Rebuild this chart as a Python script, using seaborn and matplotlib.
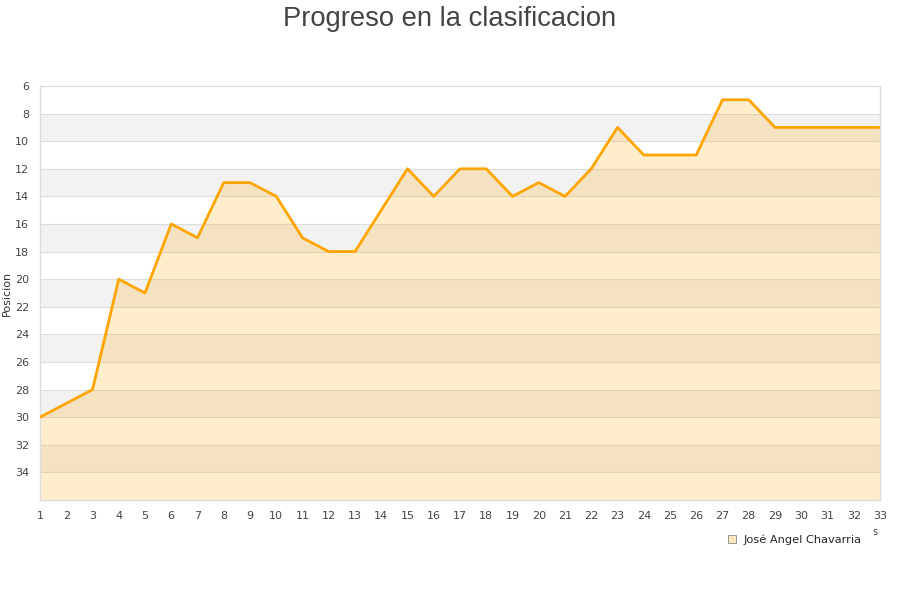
import numpy as np
import pandas as pd
import matplotlib
matplotlib.use('Agg')
import matplotlib.pyplot as plt
import seaborn as sns
from matplotlib.lines import Line2D

# datos
jornadas = list(range(1, 34))
posicion = [30, 29, 28, 20, 21, 16, 17, 13, 13, 14, 17, 18, 18, 15, 12, 14, 12, 12,
            14, 13, 14, 12, 9, 11, 11, 11, 7, 7, 9, 9, 9, 9, 9]
jugador = 'José Angel Chavarria'
yticks = list(range(6, 36, 2))

df = pd.DataFrame({'Jornada': jornadas, 'Posicion': posicion})

sns.set_style('white')
plt.rcParams['font.family'] = ['DejaVu Sans']

fig = plt.figure(figsize=(9, 6), dpi=100)
ax = fig.add_axes([40/900, 100/600, 840/900, 414/600])

# bandas alternas
for y0 in range(8, 36, 4):
    ax.axhspan(y0, y0 + 2, color='#f2f2f2', zorder=0, lw=0)
for y in yticks[1:]:
    ax.axhline(y, color='#dddddd', lw=0.8, zorder=1)

ax.fill_between(df['Jornada'], df['Posicion'], 36, color='#ffa500', alpha=0.2, lw=0, zorder=2)
sns.lineplot(data=df, x='Jornada', y='Posicion', color='#ffa500', lw=2, ax=ax, zorder=3)

ax.set_xlim(1, 33)
ax.set_ylim(36, 6)
ax.set_xticks(jornadas)
ax.set_yticks(yticks)
ax.tick_params(axis='both', labelsize=8, colors='#444444', length=0)
ax.tick_params(axis='x', pad=8)
ax.tick_params(axis='y', pad=8)
ax.set_xlabel('')
ax.set_ylabel('Posicion', fontsize=8, color='#333333', labelpad=2)
for s in ax.spines.values():
    s.set_color('#dddddd')
    s.set_linewidth(1)

fig.suptitle('Progreso en la clasificacion', fontsize=19.7, color='#444444',
             family=['Liberation Sans', 'DejaVu Sans'], y=0.99)

fig.text(875/900, 1 - 532/600, 's', fontsize=7, color='#444444', ha='center', va='center')

h = Line2D([], [], marker='s', ls='', markersize=6, markerfacecolor='#ffe8bf',
           markeredgecolor='#888888', markeredgewidth=0.6)
fig.legend([h], [jugador], loc='center', bbox_to_anchor=(794/900, 1 - 539.5/600),
           frameon=False, fontsize=8.2, handletextpad=0.5, handlelength=1)

fig.savefig('out.png', dpi=100)
